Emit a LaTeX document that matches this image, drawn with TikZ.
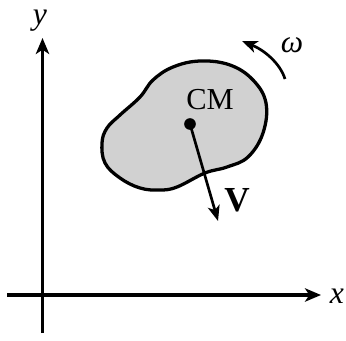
\documentclass[tikz,border=0pt]{standalone}
\usepackage{fontspec}
\setmainfont{Liberation Serif}
\usetikzlibrary{arrows.meta}

\tikzset{
  axis/.style={line width=2.8pt, -{Stealth[length=4.8mm, width=4mm, inset=1.3mm]}},
  vec/.style={line width=2.3pt, -{Stealth[length=4.6mm, width=3.6mm, inset=1.2mm]}},
  lbl/.style={font=\fontsize{27}{30}\selectfont\itshape, inner sep=0pt}
}

\begin{document}
\begin{tikzpicture}[x=0.3mm, y=-0.3mm]
\useasboundingbox (0,0) rectangle (346,340);

% axes
\coordinate (xstart) at (7,295);
\coordinate (xend) at (321,295);
\coordinate (ystart) at (42.5,333);
\coordinate (yend) at (42.5,38);
\draw[axis] (xstart) -- (xend);
\draw[axis] (ystart) -- (yend);
\node[lbl] (xlbl) at (337,296) {x};
\node[lbl] (ylbl) at (40,21) {y};

% body
\draw[line width=2.8pt, fill=black!18] plot[smooth cycle, tension=0.65] coordinates {
  (200,61) (230,65) (253,80) (266,103) (263,133) (248,157) (227,167)
  (205,173) (177,187) (160,190) (140,188) (120,178) (105,163) (102,143)
  (107,128) (120,115) (140,97) (153,80) (173,67)};

\node[font=\fontsize{26}{29}\selectfont, inner sep=0pt] (cmlbl) at (210,100) {CM};
\node[circle, fill=black, minimum size=3.5mm, inner sep=0pt] (cm) at (190,124) {};

% velocity
\coordinate (vtip) at (218,221);
\draw[vec] (cm.center) -- (vtip);
\node[font=\fontsize{30}{33}\selectfont\bfseries, inner sep=0pt] (vlbl) at (237,200) {V};

% rotation
\coordinate (wstart) at (285,79);
\coordinate (wtip) at (242,41);
\draw[vec] (wstart) .. controls (280,63) and (264,50) .. (wtip);
\node[lbl] (wlbl) at (292,45) {ω};
\end{tikzpicture}
\end{document}
